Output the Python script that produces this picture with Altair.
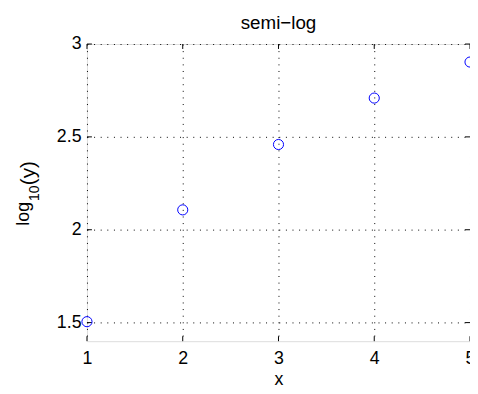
import altair as alt
import pandas as pd

xs = [1, 2, 3, 4, 5]
ys = [1.505, 2.107, 2.459, 2.709, 2.903]
x_ticks = [1, 2, 3, 4, 5]
y_ticks = [1.5, 2, 2.5, 3]
title_text = "semi−log"
xlabel = "x"
ylabel_parts = ["log", "10", "(y)"]

W, H = 388, 301
FONT = "Liberation Sans"

df = pd.DataFrame({"x": xs, "y": ys})
xt = pd.DataFrame({"t": x_ticks})
yt = pd.DataFrame({"t": y_ticks})
one = pd.DataFrame({"a": [0]})

xscale = alt.Scale(domain=[1, 5], nice=False, zero=False)
yscale = alt.Scale(domain=[1.4, 3], nice=False, zero=False)

DASH = [1, 5.7]
xaxis = alt.Axis(values=x_ticks, format="~g", grid=True, gridDash=DASH, gridColor="#000",
                 gridWidth=1, ticks=False, domain=False, labelFontSize=18, labelFont=FONT,
                 labelColor="#000", labelPadding=9, title=xlabel, titleFontSize=18, titleFont=FONT,
                 titleFontWeight="normal", titleColor="#000", titleBaseline="alphabetic",
                 titleY=44, labelFlush=False)
yaxis = alt.Axis(values=y_ticks, format="~g", grid=True, gridDash=DASH, gridColor="#000",
                 gridWidth=1, ticks=False, domain=False, labelFontSize=18, labelFont=FONT,
                 labelColor="#000", labelPadding=6, title="", labelFlush=False)

points = alt.Chart(df).mark_point(shape="circle", filled=False, color="#0000ff",
                                  strokeWidth=1, size=105, opacity=1).encode(
    x=alt.X("x:Q", scale=xscale, axis=xaxis),
    y=alt.Y("y:Q", scale=yscale, axis=yaxis),
)

tick_style = dict(color="#000", strokeWidth=1)
xb = alt.Chart(xt).mark_rule(**tick_style).encode(
    x=alt.X("t:Q", scale=xscale), y=alt.value(H), y2=alt.value(H - 5))
xtp = alt.Chart(xt).mark_rule(**tick_style).encode(
    x=alt.X("t:Q", scale=xscale), y=alt.value(0), y2=alt.value(5))
yl = alt.Chart(yt).mark_rule(**tick_style).encode(
    y=alt.Y("t:Q", scale=yscale), x=alt.value(0), x2=alt.value(5))
yr = alt.Chart(yt).mark_rule(**tick_style).encode(
    y=alt.Y("t:Q", scale=yscale), x=alt.value(W), x2=alt.value(W - 5))

txt = dict(font=FONT, color="#000", baseline="alphabetic")
title = alt.Chart(one).mark_text(text=title_text, fontSize=19, align="center", **txt).encode(
    x=alt.value(W / 2), y=alt.value(-15))
yl1 = alt.Chart(one).mark_text(text=ylabel_parts[0], fontSize=18, angle=270, align="left", **txt).encode(
    x=alt.value(-59), y=alt.value(184))
yl2 = alt.Chart(one).mark_text(text=ylabel_parts[1], fontSize=14, angle=270, align="left", **txt).encode(
    x=alt.value(-49), y=alt.value(159))
yl3 = alt.Chart(one).mark_text(text=ylabel_parts[2], fontSize=21, angle=270, align="left", **txt).encode(
    x=alt.value(-53), y=alt.value(143))

chart = alt.layer(xb, xtp, yl, yr, points, title, yl1, yl2, yl3).properties(
    width=W, height=H,
    autosize=alt.AutoSizeParams(type="none"),
    padding={"left": 80, "top": 34, "right": 0, "bottom": 50},
).configure_view(stroke="#000", strokeWidth=1).configure(background="white")

chart.save("out.html", embed_options={"renderer": "svg", "actions": False})
